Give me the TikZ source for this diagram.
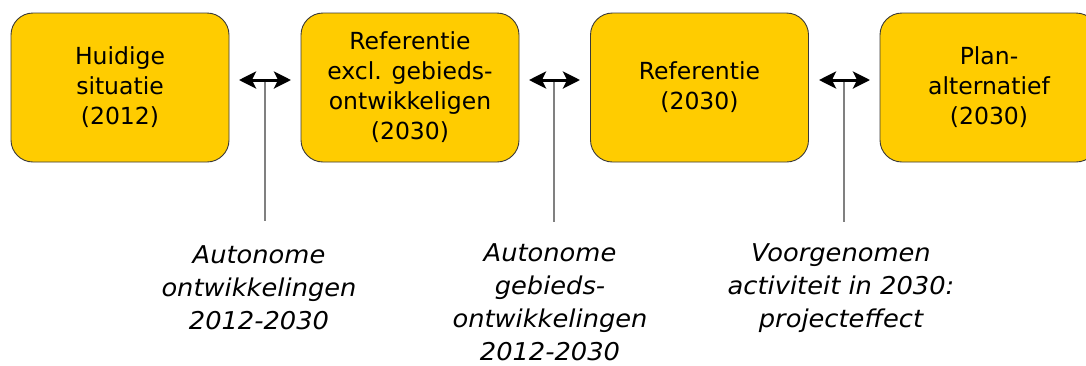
\documentclass[tikz,border=0pt]{standalone}
\usepackage{fontspec}
\setmainfont{DejaVu Sans}
\newfontfamily\labelfont{DejaVu Sans}[FakeStretch=1.05]
\usetikzlibrary{arrows.meta}
\definecolor{boxyellow}{HTML}{FFCC00}
\definecolor{boxedge}{HTML}{3A3A3A}
\definecolor{stemgray}{HTML}{808080}
\tikzset{
  stage/.style={draw=boxedge, line width=0.9pt, fill=boxyellow, rounded corners=22pt,
    minimum width=218pt, minimum height=149pt, inner sep=0pt, align=center,
    font=\fontsize{23.5}{30}\selectfont},
  effect/.style={align=center, inner sep=0pt, font=\labelfont\itshape\fontsize{24.5}{33}\selectfont},
  duo/.style={line width=3pt, {Stealth[length=17pt 0,width=17pt 0,inset=4pt]}-{Stealth[length=17pt 0,width=17pt 0,inset=4pt]}},
  stem/.style={draw=stemgray, line width=1.5pt}
}
\begin{document}
\begin{tikzpicture}[x=1pt,y=-1pt]
\useasboundingbox (0,0) rectangle (1086,365);
\fill[white] (0,0) rectangle (1086,365);
\node[stage] (b1) at (120,87.5) {Huidige\\situatie\\(2012)};
\node[stage] (b2) at (410,87.5) {Referentie\\excl. gebieds-\\ontwikkeligen\\(2030)};
\node[stage] (b3) at (699.5,87.5) {Referentie\\(2030)};
\node[stage] (b4) at (989,87.5) {Plan-\\alternatief\\(2030)};

\coordinate (a1l) at (239,80); \coordinate (a1r) at (291,80);
\coordinate (a2l) at (529,80); \coordinate (a2r) at (580,80);
\coordinate (a3l) at (819,80); \coordinate (a3r) at (870,80);
\coordinate (m1) at (265,81); \coordinate (e1) at (265,221);
\coordinate (m2) at (554,81); \coordinate (e2) at (554,222);
\coordinate (m3) at (844,81); \coordinate (e3) at (844,222);

\draw[stem] (m1) -- (e1);
\draw[stem] (m2) -- (e2);
\draw[stem] (m3) -- (e3);
\draw[duo] (a1l) -- (a1r);
\draw[duo] (a2l) -- (a2r);
\draw[duo] (a3l) -- (a3r);

\node[effect] (t1) at (259,288) {Autonome\\ontwikkelingen\\2012-2030};
\node[effect] (t2) at (550,302) {Autonome\\gebieds-\\ontwikkelingen\\2012-2030};
\node[effect] (t3) at (841,288) {Voorgenomen\\activiteit in 2030:\\projecteffect};
\end{tikzpicture}
\end{document}
